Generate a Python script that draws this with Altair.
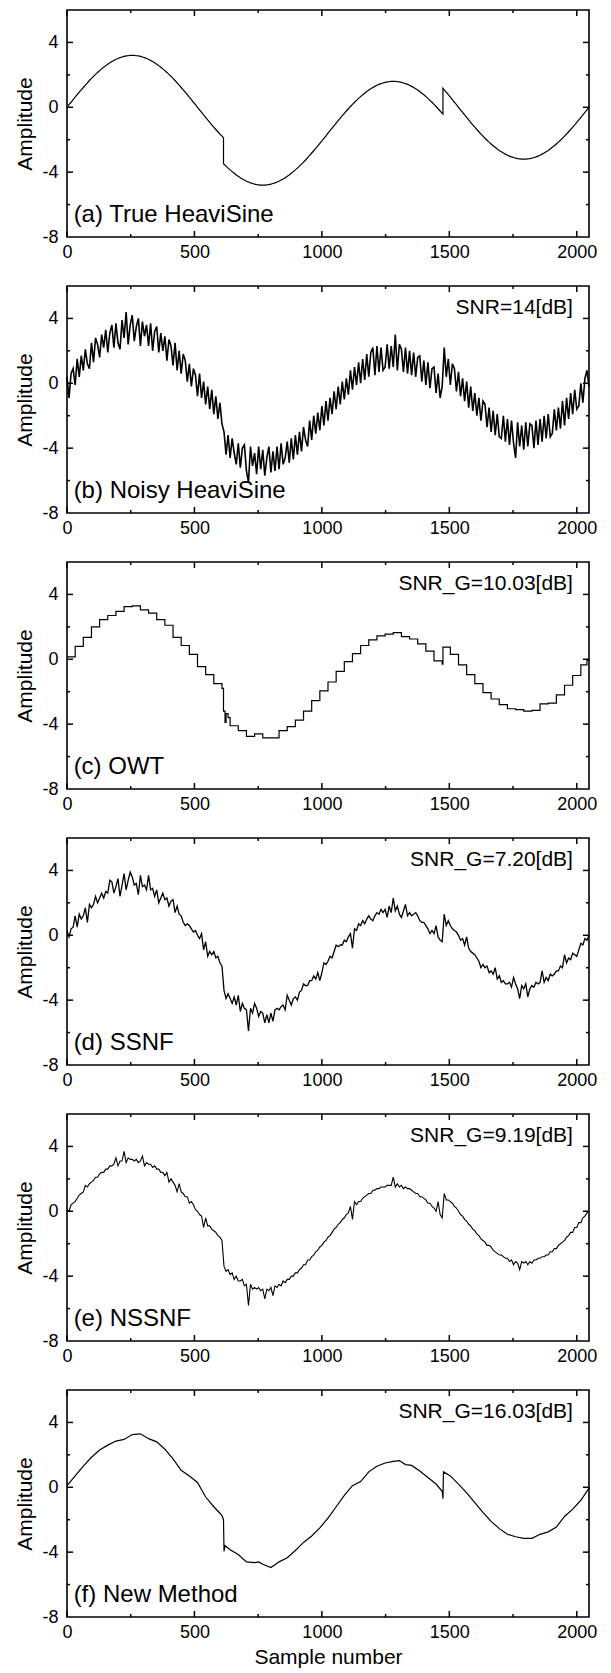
import altair as alt
import pandas as pd

FONT = "Liberation Sans"
PW, PH = 522, 227

# ---- axis tick positions / labels ----
X_LABELS = [0, 500, 1000, 1500, 2000]
X_MINOR = [250, 750, 1250, 1750]
Y_LABELS = [-8, -4, 0, 4]
Y_MAJOR = [-4, 0, 4]
Y_MINOR = [-6, -2, 2]

PANEL_LABELS = ["(a) True HeaviSine", "(b) Noisy HeaviSine", "(c) OWT",
                "(d) SSNF", "(e) NSSNF", "(f) New Method"]
SNR_LABELS = ["", "SNR=14[dB]", "SNR_G=10.03[dB]", "SNR_G=7.20[dB]",
              "SNR_G=9.19[dB]", "SNR_G=16.03[dB]"]

# sample positions (every 8th sample)
SAMPLE_GRID = list(range(0, 2049, 8))

# ---- (a) true HeaviSine ----
TRUE_X = (list(range(0, 609, 8)) + [614, 614] + list(range(616, 1473, 8))
          + [1475, 1475] + list(range(1480, 2049, 8)))
TRUE_Y = [
    0, .16, .31, .47, .62, .78, .93, 1.08, 1.22, 1.37, 1.51, 1.65, 1.78, 1.91, 2.03, 2.15,
    2.26, 2.37, 2.47, 2.57, 2.66, 2.74, 2.82, 2.89, 2.96, 3.01, 3.06, 3.10, 3.14, 3.17, 3.18, 3.20, 3.20,
    3.20, 3.18, 3.17, 3.14, 3.10, 3.06, 3.01, 2.96, 2.89, 2.82, 2.74, 2.66, 2.57, 2.47, 2.37, 2.26,
    2.15, 2.03, 1.91, 1.78, 1.65, 1.51, 1.37, 1.22, 1.08, .93, .78, .62, .47, .31, .16, 0,
    -.16, -.31, -.47, -.62, -.78, -.93, -1.08, -1.22, -1.37, -1.51, -1.65, -1.78,
    -1.88, -3.48,
    -3.51, -3.63, -3.75, -3.86, -3.97, -4.07, -4.17, -4.26, -4.34, -4.42,
    -4.49, -4.56, -4.61, -4.66, -4.70, -4.74, -4.77, -4.78, -4.80, -4.80,
    -4.80, -4.78, -4.77, -4.74, -4.70, -4.66, -4.61, -4.56, -4.49, -4.42, -4.34, -4.26, -4.17, -4.07,
    -3.97, -3.86, -3.75, -3.63, -3.51, -3.38, -3.25, -3.11, -2.97, -2.82, -2.68, -2.53, -2.38, -2.22,
    -2.07, -1.91, -1.76, -1.60,
    -1.44, -1.29, -1.13, -.98, -.82, -.67, -.52, -.38, -.23, -.09, .05, .18, .31, .43, .55, .66,
    .77, .87, .97, 1.06, 1.14, 1.22, 1.29, 1.36, 1.41, 1.46, 1.50, 1.54, 1.57, 1.58, 1.60, 1.60,
    1.60, 1.58, 1.57, 1.54, 1.50, 1.46, 1.41, 1.36, 1.29, 1.22, 1.14, 1.06, .97, .87, .77, .66,
    .55, .43, .31, .18, .05, -.09, -.23, -.38,
    -0.42, 1.18,
    1.08, .93, .78, .62, .47, .31, .16, 0,
    -.16, -.31, -.47, -.62, -.78, -.93, -1.08, -1.22, -1.37, -1.51, -1.65, -1.78, -1.91, -2.03, -2.15,
    -2.26, -2.37, -2.47, -2.57, -2.66, -2.74, -2.82, -2.89, -2.96, -3.01, -3.06, -3.10, -3.14, -3.17,
    -3.18, -3.20, -3.20,
    -3.20, -3.18, -3.17, -3.14, -3.10, -3.06, -3.01, -2.96, -2.89, -2.82, -2.74, -2.66, -2.57, -2.47,
    -2.37, -2.26, -2.15, -2.03, -1.91, -1.78, -1.65, -1.51, -1.37, -1.22, -1.08, -.93, -.78, -.62,
    -.47, -.31, -.16, 0,
]

# ---- (b) noisy HeaviSine (every 8th sample) ----
NOISY_Y = [
    0.4, -0.9, 0.6, 0.9, -0.1, 1.5, 0.4, 1.7,
    0.8, 2.1, 1.2, 0.9, 2.5, 1.3, 2.8, 2.4,
    1.6, 3.0, 2.2, 3.3, 1.9, 3.1, 3.6, 2.2,
    3.7, 2.5, 2.1, 3.9, 2.8, 4.4, 2.4, 3.6,
    4.2, 2.6, 3.5, 4.0, 2.3, 3.8, 2.9, 3.6,
    2.3, 3.7, 2.0, 3.2, 3.5, 1.9, 3.1, 2.0,
    2.9, 1.4, 2.7, 2.3, 1.1, 2.5, 0.8, 2.0,
    0.6, 1.8, 1.4, 0.1, 1.2, -0.2, 0.9, 0.5,
    -0.8, 0.6, -0.9, 0.1, -1.3, -0.2, -1.6, -0.4,
    -1.9, -0.8, -2.2, -1.2, -2.5, -3.0, -4.4, -3.2,
    -4.6, -3.4, -4.3, -5.0, -3.7, -5.2, -4.0, -3.8,
    -5.4, -6.1, -3.9, -5.1, -4.3, -5.6, -3.9, -5.3,
    -4.1, -5.7, -4.6, -3.9, -5.5, -4.2, -5.4, -3.9,
    -5.3, -3.7, -5.0, -4.6, -3.6, -4.9, -3.4, -4.7,
    -3.2, -4.4, -3.0, -4.2, -2.7, -3.5, -3.9, -2.3,
    -3.5, -2.0, -3.1, -1.8, -2.9, -1.4, -2.6, -1.1,
    -2.3, -0.9, -1.9, -0.5, -1.6, -0.2, -1.3, 0.1,
    -1.0, 0.3, -0.7, 0.8, -0.4, 1.0, -0.1, 1.3,
    0.0, 1.5, 0.2, 1.8, 0.4, 1.9, 2.2, 0.5,
    2.3, 0.7, 2.2, 0.8, 1.0, 2.4, 0.9, 2.3,
    1.0, 3.0, 0.8, 2.4, 2.1, 0.7, 2.2, 0.6,
    2.0, 0.5, 1.9, 0.4, 1.6, 1.7, 0.1, 1.4,
    -0.1, 1.3, -0.3, 0.9, 1.0, -0.6, 0.6, -0.9,
    -0.2, 2.2, 0.4, 1.5, -0.1, 1.2, 0.9, -0.5,
    0.7, -0.8, 0.3, -1.1, 0.1, -1.5, -0.2, -1.7,
    -0.6, -2.0, -0.9, -2.3, -1.1, -1.3, -2.7, -1.5,
    -3.0, -1.7, -3.2, -1.9, -3.3, -3.4, -2.0, -3.6,
    -2.2, -3.8, -2.3, -3.7, -4.6, -2.4, -3.9, -2.6,
    -4.1, -2.4, -3.9, -2.5, -2.6, -4.0, -2.3, -3.8,
    -2.2, -3.6, -2.0, -3.4, -1.9, -3.3, -3.1, -1.6,
    -2.9, -1.5, -2.8, -1.1, -2.6, -0.9, -2.2, -0.6,
    -1.9, -0.4, -1.6, -1.4, 0.0, -1.2, 0.3, 0.8,
    -0.2,
]

# ---- (c) OWT (staircase, value holds until next position) ----
OWT_X = [0, 32, 64, 96, 128, 160, 192, 224, 256, 288, 320, 352, 384, 416, 448, 480,
         512, 544, 576, 608, 614, 620, 624, 632,
         640, 672, 704, 736, 768, 800, 832, 864, 896, 928, 960, 992, 1024, 1056, 1088,
         1120, 1152, 1184, 1216, 1248, 1280, 1312, 1344, 1376, 1408, 1440, 1472,
         1475, 1504, 1536, 1568, 1600, 1632, 1664, 1696, 1728, 1760, 1792, 1824, 1856,
         1888, 1920, 1952, 1984, 2016, 2040, 2048]
OWT_Y = [0.15, 0.8, 1.35, 2.0, 2.45, 2.7, 2.95, 3.25, 3.3, 3.05, 2.85, 2.45, 2.1, 1.35, 0.85, 0.3,
         -0.45, -0.95, -1.5, -1.8, -3.2, -3.9, -3.35, -3.6,
         -4.1, -4.4, -4.75, -4.6, -4.85, -4.85, -4.4, -4.15, -3.75, -3.2, -2.55, -1.95, -1.4, -0.75,
         -0.15, 0.35, 0.85, 1.2, 1.45, 1.55, 1.65, 1.4, 1.25, 0.95, 0.5, -0.1, -0.3,
         0.75, 0.3, -0.35, -0.95, -1.5, -2.05, -2.45, -2.8, -3.05, -3.1, -3.2, -3.15, -2.75,
         -2.7, -2.2, -1.6, -1.0, -0.35, -0.05, -0.05]

# ---- (d) SSNF (every 8th sample) ----
SSNF_Y = [
    0.3, -0.1, 0.4, 0.5, 1.2, 0.5, 1.3, 1.0,
    1.2, 1.7, 0.8, 1.9, 1.7, 1.9, 2.4, 2.0,
    2.3, 2.6, 2.3, 2.7, 2.6, 3.4, 3.3, 2.6,
    3.0, 3.5, 2.4, 3.1, 3.8, 2.8, 3.4, 3.9,
    3.6, 3.1, 3.2, 2.5, 3.7, 3.0, 3.1, 2.8,
    3.7, 2.8, 2.9, 2.4, 2.8, 2.0, 2.3, 2.6,
    2.2, 2.3, 1.8, 2.1, 2.2, 1.4, 1.8, 1.3,
    1.2, 0.8, 0.6, 0.7, 0.6, 0.4, 0.2, 0.3,
    0.0, -0.2, 0.1, -0.9, -0.4, -1.3, -1.0, -1.2,
    -1.0, -1.4, -1.3, -1.7, -1.9, -3.4, -3.9, -3.6,
    -3.9, -4.2, -3.8, -4.3, -3.7, -4.7, -4.2, -4.5,
    -4.6, -5.9, -4.5, -4.8, -4.2, -4.5, -5.0, -4.7,
    -4.8, -5.4, -4.9, -5.4, -4.8, -5.3, -4.6, -4.5,
    -4.6, -4.4, -4.3, -4.6, -3.7, -4.0, -4.3, -3.9,
    -3.8, -4.0, -3.5, -3.4, -3.0, -3.1, -3.1, -2.8,
    -2.8, -2.5, -2.7, -2.3, -2.8, -2.3, -1.7, -1.8,
    -1.6, -1.3, -1.4, -1.0, -0.6, -0.7, -0.6, -0.6,
    -0.3, -0.4, -0.1, 0.1, -0.8, 0.4, 0.3, 0.7,
    0.6, 0.9, 0.7, 1.0, 1.2, 1.0, 0.9, 1.2,
    1.4, 1.3, 1.6, 1.4, 1.6, 1.1, 1.8, 1.4,
    2.3, 1.5, 1.8, 1.3, 1.1, 1.5, 1.9, 1.2,
    1.4, 1.2, 1.3, 1.4, 1.2, 0.9, 0.8, 0.8,
    0.6, 0.4, 0.1, 0.3, 0.1, 0.6, -0.1, -0.3,
    -0.4, 1.3, 0.6, 0.9, 0.6, 0.4, 0.3, 0.2,
    0.0, -0.3, -0.2, -0.6, -0.1, -0.8, -1.0, -1.1,
    -1.2, -1.4, -1.6, -2.0, -1.8, -2.0, -1.9, -2.3,
    -2.2, -2.4, -2.0, -2.7, -2.5, -2.9, -2.8, -3.0,
    -3.0, -2.9, -3.2, -2.6, -3.0, -3.3, -3.9, -3.1,
    -3.3, -3.0, -3.8, -3.3, -3.1, -3.2, -2.9, -3.0,
    -2.9, -2.2, -2.9, -2.6, -2.8, -2.4, -2.5, -2.4,
    -2.2, -2.2, -1.9, -2.0, -1.2, -1.7, -1.4, -1.5,
    -1.1, -1.2, -1.3, -0.9, -0.5, -0.6, -0.2, -0.3,
    0.0,
]

# ---- (e) NSSNF (every 8th sample) ----
NSSNF_Y = [
    0.1, 0.0, 0.4, 0.5, 0.6, 0.8, 1.0, 1.1,
    1.2, 1.6, 1.5, 1.7, 1.8, 1.9, 2.1, 2.1,
    2.3, 2.4, 2.4, 2.6, 2.6, 2.8, 2.8, 2.9,
    3.3, 2.8, 3.1, 3.1, 3.7, 3.0, 3.3, 3.2,
    3.2, 3.1, 3.2, 3.0, 3.1, 3.4, 2.8, 3.0,
    2.9, 2.9, 2.7, 2.8, 2.6, 2.6, 2.4, 2.4,
    2.2, 2.4, 1.8, 2.0, 1.8, 1.6, 1.2, 1.7,
    1.2, 1.1, 0.9, 0.9, 0.5, 0.6, 0.4, 0.1,
    0.0, -0.2, -0.3, -1.0, -0.4, -0.9, -0.9, -1.1,
    -1.2, -1.3, -1.5, -1.6, -1.8, -3.4, -3.7, -3.6,
    -3.9, -3.8, -4.2, -4.0, -4.3, -4.3, -4.2, -4.6,
    -4.5, -5.8, -4.5, -4.8, -4.7, -4.8, -4.7, -4.9,
    -4.8, -5.4, -4.8, -4.9, -4.7, -5.2, -4.6, -4.7,
    -4.5, -4.6, -4.3, -4.4, -4.2, -4.2, -4.0, -4.0,
    -3.8, -3.8, -3.6, -3.5, -3.3, -3.3, -3.0, -3.0,
    -2.8, -2.7, -2.5, -2.4, -2.2, -2.1, -1.9, -1.8,
    -1.6, -1.5, -1.3, -1.1, -1.0, -0.8, -0.7, -0.5,
    -0.4, -0.2, -0.1, 0.3, -0.5, 0.6, 0.4, 0.6,
    0.6, 0.8, 0.9, 1.0, 1.1, 1.1, 1.3, 1.3,
    1.4, 1.4, 1.5, 1.5, 1.5, 1.6, 1.6, 1.6,
    2.1, 1.5, 1.7, 1.5, 1.6, 1.4, 1.5, 1.4,
    1.4, 1.3, 1.2, 1.1, 1.1, 0.9, 0.9, 0.8,
    0.7, 0.5, 0.5, 0.3, 0.2, 0.0, 0.6, -0.2,
    -0.4, 1.1, 0.7, 0.7, 0.6, 0.5, 0.3, 0.2,
    0.0, -0.2, -0.3, -0.5, -0.6, -0.8, -0.9, -1.1,
    -1.2, -1.4, -1.5, -1.7, -1.8, -1.9, -2.1, -2.1,
    -2.2, -2.4, -2.5, -2.6, -2.7, -2.7, -2.8, -2.9,
    -2.9, -3.1, -3.0, -3.3, -3.1, -3.2, -3.6, -3.1,
    -3.2, -3.1, -3.3, -3.1, -3.2, -3.0, -3.0, -2.9,
    -2.9, -2.8, -2.8, -2.7, -2.7, -2.5, -2.5, -2.3,
    -2.3, -2.1, -2.0, -1.9, -1.8, -1.6, -1.5, -1.3,
    -1.3, -1.0, -1.0, -0.7, -0.7, -0.4, -0.3, -0.1,
    0.0,
]

# ---- (f) New Method ----
NEW_X = [0, 32, 64, 96, 128, 160, 192, 224, 256, 288, 320, 352, 384, 416, 448, 480, 512, 544,
         576, 600, 608, 614, 616, 620, 640, 672, 704, 736, 752, 768, 800, 832, 864, 896, 928,
         960, 992, 1024, 1056, 1088, 1120, 1152, 1184, 1216, 1248, 1280, 1304, 1328, 1352,
         1384, 1416, 1448, 1472, 1475, 1477, 1504, 1536, 1568, 1600, 1632, 1664, 1696, 1728,
         1760, 1792, 1824, 1856, 1888, 1920, 1952, 1984, 2016, 2048]
NEW_Y = [0.1, 0.7, 1.3, 1.85, 2.3, 2.6, 2.85, 2.95, 3.25, 3.3, 3.0, 2.8, 2.35, 1.75, 1.05, 0.7,
         0.3, -0.6, -1.2, -1.6, -1.75, -2.0, -3.95, -3.6, -3.85, -4.15, -4.6, -4.65, -4.6,
         -4.75, -4.95, -4.6, -4.35, -3.9, -3.4, -3.0, -2.5, -1.9, -1.2, -0.5, 0.1, 0.35, 0.95,
         1.3, 1.5, 1.6, 1.65, 1.4, 1.35, 1.0, 0.6, 0.2, -0.25, -0.7, 0.95, 0.7, 0.2, -0.35,
         -0.95, -1.55, -2.1, -2.55, -2.9, -3.05, -3.15, -3.15, -2.9, -2.75, -2.45, -1.8, -1.35,
         -0.8, -0.05]

xscale = alt.Scale(domain=[0, 2048], nice=False, zero=False)
yscale = alt.Scale(domain=[-8, 6], nice=False, zero=False)


def make_axes(last):
    xaxis = alt.Axis(values=X_LABELS, ticks=False, domain=False, grid=False,
                     labelExpr="datum.value + ''", labelFlush=False,
                     labelFont=FONT, labelFontSize=18, labelColor="black", labelPadding=6,
                     title="Sample number" if last else "",
                     titleFont=FONT, titleFontSize=21, titleFontWeight="normal",
                     titleColor="black", titlePadding=5)
    yaxis = alt.Axis(values=Y_LABELS, ticks=False, domain=False, grid=False,
                     labelExpr="datum.value + ''", labelFlush=False,
                     labelFont=FONT, labelFontSize=18, labelColor="black", labelPadding=9,
                     title="Amplitude", titleFont=FONT, titleFontSize=21,
                     titleFontWeight="normal", titleColor="black", titlePadding=6)
    return xaxis, yaxis


def make_panel(xs, ys, label, snr, interp="linear", last=False, sw=1.2):
    xaxis, yaxis = make_axes(last)

    def X():
        return alt.X("x:Q", scale=xscale, axis=xaxis)

    def Y():
        return alt.Y("y:Q", scale=yscale, axis=yaxis)

    n = min(len(xs), len(ys))
    df = pd.DataFrame({"x": xs[:n], "y": ys[:n], "i": list(range(n))})
    line = alt.Chart(df).mark_line(color="black", strokeWidth=sw, interpolate=interp).encode(
        x=X(), y=Y(), order="i:Q",
    )
    layers = [line]
    # inward ticks on all four sides
    for vals, L in ((X_LABELS, 6), (X_MINOR, 3)):
        base = alt.Chart(pd.DataFrame({"x": vals})).mark_rule(color="black", strokeWidth=1.5)
        layers.append(base.encode(x=X(), y=alt.value(PH), y2=alt.value(PH - L)))
        layers.append(base.encode(x=X(), y=alt.value(0), y2=alt.value(L)))
    for vals, L in ((Y_MAJOR, 6), (Y_MINOR, 3)):
        base = alt.Chart(pd.DataFrame({"y": vals})).mark_rule(color="black", strokeWidth=1.5)
        layers.append(base.encode(y=Y(), x=alt.value(0), x2=alt.value(L)))
        layers.append(base.encode(y=Y(), x=alt.value(PW), x2=alt.value(PW - L)))
    lab = alt.Chart(pd.DataFrame({"x": [26], "y": [-7.1], "t": [label]})).mark_text(
        align="left", baseline="alphabetic", font=FONT, fontSize=24, color="black"
    ).encode(x=X(), y=Y(), text="t:N")
    layers.append(lab)
    if snr:
        s = alt.Chart(pd.DataFrame({"x": [1985], "y": [4.25], "t": [snr]})).mark_text(
            align="right", baseline="alphabetic", font=FONT, fontSize=21, color="black"
        ).encode(x=X(), y=Y(), text="t:N")
        layers.append(s)
    return alt.layer(*layers).properties(width=PW, height=PH)


panels = [
    make_panel(TRUE_X, TRUE_Y, PANEL_LABELS[0], SNR_LABELS[0]),
    make_panel(SAMPLE_GRID, NOISY_Y, PANEL_LABELS[1], SNR_LABELS[1], sw=1.6),
    make_panel(OWT_X, OWT_Y, PANEL_LABELS[2], SNR_LABELS[2], interp="step-after"),
    make_panel(SAMPLE_GRID, SSNF_Y, PANEL_LABELS[3], SNR_LABELS[3], sw=1.3),
    make_panel(SAMPLE_GRID, NSSNF_Y, PANEL_LABELS[4], SNR_LABELS[4], sw=1.1),
    make_panel(NEW_X, NEW_Y, PANEL_LABELS[5], SNR_LABELS[5], last=True),
]

chart = alt.vconcat(*panels, spacing=49, bounds="flush").properties(
    padding={"left": 6, "top": 0, "right": 0, "bottom": 0}
).configure_view(stroke="black", strokeWidth=1.6)

chart.save("out.html", embed_options={"renderer": "svg", "actions": False})
